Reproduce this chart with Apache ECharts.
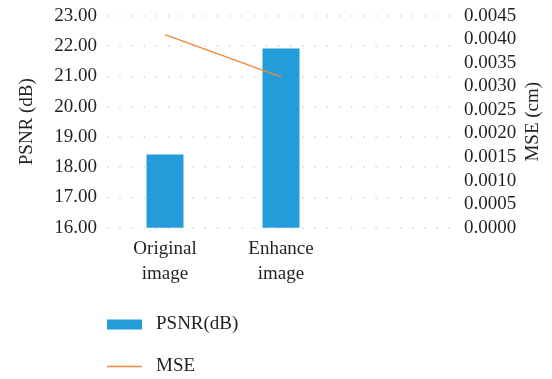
<!DOCTYPE html>
<html>
<head>
<meta charset="utf-8">
<script src="https://cdn.jsdelivr.net/npm/echarts@6/dist/echarts.min.js"></script>
<style>
  html, body { margin: 0; padding: 0; background: #ffffff; }
  #chart { width: 552px; height: 379px; }
</style>
</head>
<body>
<div id="chart"></div>
<script>
// Image categories (third slot left empty to keep the plot's right margin)
const categories = ['Original\nimage', 'Enhance\nimage', ''];
// PSNR in dB, left axis
const psnrValues = [18.42, 21.92, null];
// MSE in cm, right axis
const mseValues = [0.0041, 0.0032, null];

const FONT = '"Liberation Serif", "DejaVu Serif", serif';
const TEXT = '#231f20';
const BLUE = '#229dda';
const ORANGE = '#f0883c';

const legendText = { fontFamily: FONT, fontSize: 19, color: TEXT, padding: [0, 0, 0, 9] };

const chart = echarts.init(document.getElementById('chart'), null, { renderer: 'canvas' });

chart.setOption({
  animation: false,
  backgroundColor: '#ffffff',
  textStyle: { fontFamily: FONT, color: TEXT },
  grid: {
    left: 107, right: 97, top: 15.7, bottom: 151.3,
    containLabel: false, outerBoundsMode: 'none'
  },
  // one legend block per row, stacked vertically
  legend: [
    {
      left: 102, top: 310, padding: 5,
      itemWidth: 35, itemHeight: 10,
      textStyle: legendText,
      data: [{ name: 'PSNR(dB)', icon: 'rect' }]
    },
    {
      left: 102, top: 352, padding: 5,
      itemWidth: 35, itemHeight: 1.5,
      textStyle: legendText,
      data: [{ name: 'MSE', icon: 'rect', itemStyle: { color: ORANGE } }]
    }
  ],
  xAxis: {
    type: 'category',
    data: categories,
    boundaryGap: true,
    axisLine: { show: false },
    axisTick: { show: false },
    axisLabel: {
      fontFamily: FONT, fontSize: 19, color: TEXT,
      lineHeight: 25, margin: 9, interval: 0
    }
  },
  yAxis: [
    {
      type: 'value',
      name: 'PSNR (dB)',
      nameLocation: 'middle',
      nameGap: 70,
      nameTextStyle: { fontFamily: FONT, fontSize: 19, color: TEXT },
      min: 16, max: 23, interval: 1,
      axisLine: { show: false },
      axisTick: { show: false },
      axisLabel: {
        fontFamily: FONT, fontSize: 19, color: TEXT, margin: 10,
        formatter: v => v.toFixed(2)
      },
      splitLine: {
        show: true,
        lineStyle: { color: '#d4d4d4', width: 1.5, type: [1.5, 10.7] }
      }
    },
    {
      type: 'value',
      name: 'MSE (cm)',
      nameLocation: 'middle',
      nameGap: 69,
      nameMoveOverlap: false,
      nameRotate: 90,
      nameTextStyle: { fontFamily: FONT, fontSize: 19, color: TEXT },
      min: 0, max: 0.0045, interval: 0.0005,
      axisLine: { show: false },
      axisTick: { show: false },
      axisLabel: {
        fontFamily: FONT, fontSize: 19, color: TEXT, margin: 9,
        formatter: v => v.toFixed(4)
      },
      splitLine: { show: false }
    }
  ],
  series: [
    {
      name: 'PSNR(dB)',
      type: 'bar',
      yAxisIndex: 0,
      data: psnrValues,
      barWidth: 37,
      itemStyle: { color: BLUE }
    },
    {
      name: 'MSE',
      type: 'line',
      yAxisIndex: 1,
      data: mseValues,
      symbol: 'none',
      lineStyle: { color: ORANGE, width: 1.4 },
      itemStyle: { color: ORANGE }
    }
  ]
});
</script>
</body>
</html>
